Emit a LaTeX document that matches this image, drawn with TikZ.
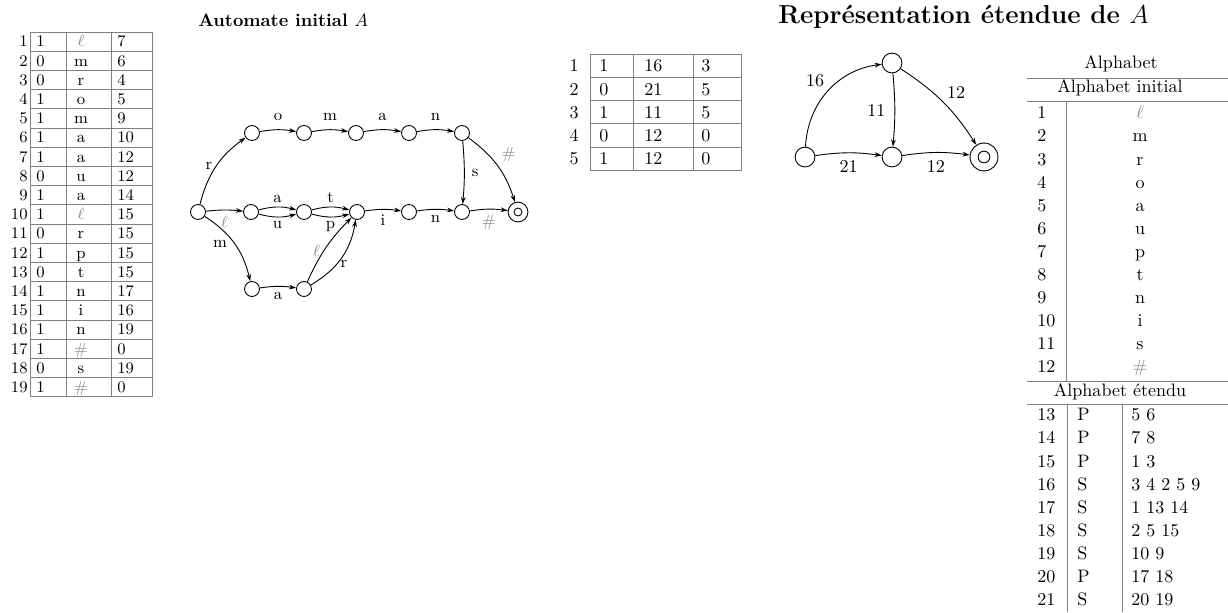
\documentclass[tikz,border=0pt]{standalone}
\usetikzlibrary{arrows.meta}
\newcommand\myell{\textcolor{black!45}{$\ell$}}
\newcommand\myhash{\textcolor{black!45}{\#}}
\begin{document}
\begin{tikzpicture}[x=0.555pt,y=0.555pt,
  cell/.style={inner sep=0pt,text height=1.5ex,text depth=0pt},
  tl/.style={draw=black!50,line width=0.5pt},
  st/.style={circle,draw,line width=0.5pt,minimum size=8.3pt,inner sep=0pt},
  stb/.style={circle,draw,line width=0.5pt,minimum size=11pt,inner sep=0pt},
  ar/.style={-{Stealth[length=4pt,width=2.6pt]},line width=0.5pt},
  lab/.style={font=\small,inner sep=2pt},
  labb/.style={inner sep=2pt}
]
\useasboundingbox (0,0) rectangle (1228,-612);

% ---------- Table 1 ----------
\foreach \i/\b/\c/\d in {1/1/\myell/7,2/0/m/6,3/0/r/4,4/1/o/5,5/1/m/9,6/1/a/10,7/1/a/12,8/0/u/12,9/1/a/14,10/1/\myell/15,11/0/r/15,12/1/p/15,13/0/t/15,14/1/n/17,15/1/i/16,16/1/n/19,17/1/\myhash/0,18/0/s/19,19/1/\myhash/0}{
  \pgfmathsetmacro\yy{-(41+(\i-1)*19.2)}
  \node[cell,anchor=east,font=\small] (ta\i n) at (28,\yy) {\i};
  \node[cell,anchor=west,font=\small] (ta\i a) at (36,\yy) {\b};
  \node[cell,font=\small] (ta\i b) at (81,\yy) {\c};
  \node[cell,anchor=west,font=\small] (ta\i c) at (117,\yy) {\d};
}
\foreach \k in {0,...,19}{
  \pgfmathsetmacro\yy{-(32+\k*19.2)}
  \draw[tl] (30,\yy) -- (152,\yy);
}
\foreach \x in {30,66,111,152}{
  \draw[tl] (\x,-32) -- (\x,-396.8);
}

% ---------- Title 1 ----------
\node[anchor=west,inner sep=0pt,font=\bfseries] (title1) at (198,-20) {Automate initial $A$};

% ---------- Automaton 1 ----------
\node[st] (s0) at (198,-212) {};
\node[st] (a1) at (252,-133) {};
\node[st] (a2) at (304,-133) {};
\node[st] (a3) at (356,-133) {};
\node[st] (a4) at (409,-133) {};
\node[st] (a5) at (462,-133) {};
\node[st] (b1) at (251,-212) {};
\node[st] (b2) at (304,-212) {};
\node[st] (b3) at (357,-212) {};
\node[st] (b4) at (409,-212) {};
\node[st] (b5) at (462,-212) {};
\node[stb] (f) at (518,-212) {};
\node[circle,draw,line width=0.5pt,minimum size=4.4pt,inner sep=0pt] (fi) at (f) {};
\node[st] (c1) at (252,-289) {};
\node[st] (c2) at (304,-289) {};

\draw[ar] (s0) to[bend left=20] node[lab,left] {r} (a1);
\draw[ar] (a1) to[bend left=10] node[lab,above=3pt] {o} (a2);
\draw[ar] (a2) to[bend left=10] node[lab,above=3pt] {m} (a3);
\draw[ar] (a3) to[bend left=10] node[lab,above=3pt] {a} (a4);
\draw[ar] (a4) to[bend left=10] node[lab,above=3pt] {n} (a5);
\draw[ar] (a5) to[bend left=18] node[lab,above right] {\myhash} (f);
\draw[ar] (a5) to[bend left=5] node[lab,right=2pt] {s} (b5);
\draw[ar] (s0) to[bend left=6] node[lab,below=1pt] {\myell} (b1);
\draw[ar] (b1) to[bend left=15] node[lab,above] {a} (b2);
\draw[ar] (b1) to[bend right=15] node[lab,below] {u} (b2);
\draw[ar] (b2) to[bend left=15] node[lab,above] {t} (b3);
\draw[ar] (b2) to[bend right=15] node[lab,below] {p} (b3);
\draw[ar] (b3) to[bend left=8] node[lab,below=1pt] {i} (b4);
\draw[ar] (b4) to[bend left=8] node[lab,below=1pt] {n} (b5);
\draw[ar] (b5) to[bend left=8] node[lab,below=1pt] {\myhash} (f);
\draw[ar] (s0) to[bend left=22] node[lab,left=2pt] {m} (c1);
\draw[ar] (c1) to[bend left=8] node[lab,below=1pt] {a} (c2);
\draw[ar] (c2) to[bend left=10] node[lab,left,pos=0.45] {\myell} (b3);
\draw[ar] (c2) to[bend right=25] node[lab,right,pos=0.4] {r} (b3);

% ---------- Table 2 ----------
\foreach \i/\b/\c/\d in {1/1/16/3,2/0/21/5,3/1/11/5,4/0/12/0,5/1/12/0}{
  \pgfmathsetmacro\yy{-(66+(\i-1)*23.2)}
  \node[cell,anchor=east] (tb\i n) at (579,\yy) {\i};
  \node[cell,anchor=west] (tb\i a) at (599,\yy) {\b};
  \node[cell,anchor=west] (tb\i b) at (644,\yy) {\c};
  \node[cell,anchor=west] (tb\i c) at (701,\yy) {\d};
}
\foreach \k in {0,...,5}{
  \pgfmathsetmacro\yy{-(54+\k*23.3)}
  \draw[tl] (590,\yy) -- (741,\yy);
}
\foreach \x in {590,633,693,741}{
  \draw[tl] (\x,-54) -- (\x,-170.5);
}

% ---------- Title 2 ----------
\node[anchor=west,inner sep=0pt,font=\Large\bfseries] (title2) at (778,-17) {Représentation étendue de $A$};

% ---------- Automaton 2 ----------
\node[st,minimum size=11pt] (q1) at (892,-63) {};
\node[st,minimum size=11pt] (q0) at (805,-157) {};
\node[st,minimum size=11pt] (q2) at (892,-157) {};
\node[stb,minimum size=15.5pt] (qf) at (984,-157) {};
\node[circle,draw,line width=0.5pt,minimum size=6.5pt,inner sep=0pt] (qfi) at (qf) {};

\draw[ar] (q0) to[bend left=40] node[labb,above left] {16} (q1);
\draw[ar] (q0) to[bend left=8] node[labb,below=2pt] {21} (q2);
\draw[ar] (q1) to[bend left=5] node[labb,left=3pt] {11} (q2);
\draw[ar] (q1) to[bend left=12] node[labb,above right] {12} (qf);
\draw[ar] (q2) to[bend left=8] node[labb,below=2pt] {12} (qf);

% ---------- Alphabet table ----------
\node[inner sep=0pt] (alph) at (1121,-64) {Alphabet};
\node[inner sep=0pt] (alphi) at (1120,-88) {Alphabet initial};
\node[inner sep=0pt] (alphe) at (1120,-392) {Alphabet étendu};
\draw[tl] (1027,-78) -- (1228,-78);
\draw[tl] (1027,-101) -- (1228,-101);
\draw[tl] (1027,-381) -- (1228,-381);
\draw[tl] (1027,-404) -- (1228,-404);
\draw[tl] (1066,-101) -- (1066,-381);
\draw[tl] (1067,-404) -- (1067,-612);
\draw[tl] (1122,-404) -- (1122,-612);
\foreach \i/\c in {1/\myell,2/m,3/r,4/o,5/a,6/u,7/p,8/t,9/n,10/i,11/s,12/\myhash}{
  \pgfmathsetmacro\yy{-(113+(\i-1)*23.1)}
  \node[cell,anchor=west] (al\i n) at (1037,\yy) {\i};
  \node[cell] (al\i c) at (1140,\yy) {\c};
}
\foreach \i/\t/\v in {13/P/5 6,14/P/7 8,15/P/1 3,16/S/3 4 2 5 9,17/S/1 13 14,18/S/2 5 15,19/S/10 9,20/P/17 18,21/S/20 19}{
  \pgfmathsetmacro\yy{-(415+(\i-13)*23.1)}
  \node[cell,anchor=west] (al\i n) at (1037,\yy) {\i};
  \node[cell,anchor=west] (al\i t) at (1077,\yy) {\t};
  \node[cell,anchor=west] (al\i v) at (1131,\yy) {\v};
}
\end{tikzpicture}
\end{document}
